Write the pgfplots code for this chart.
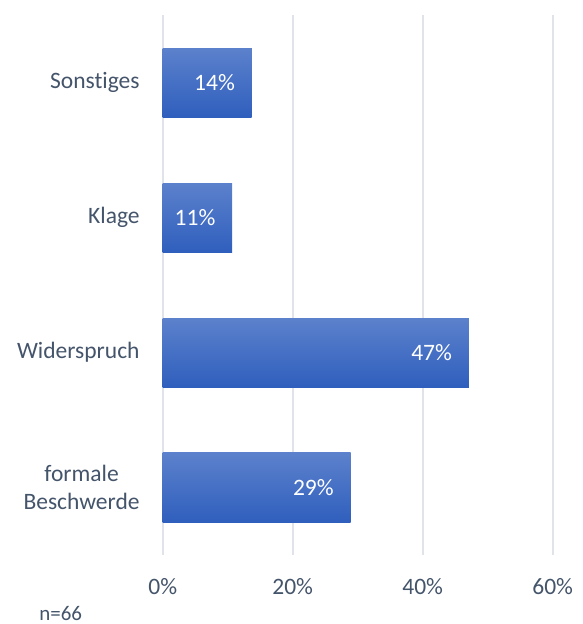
\documentclass[border=0pt]{standalone}
\usepackage{fontspec}
\setmainfont{Carlito}[Ligatures=NoCommon]
\usepackage{pgfplots}
\pgfplotsset{compat=1.18}
\definecolor{txt}{HTML}{44546A}
\definecolor{gridc}{HTML}{E0E3E9}
\definecolor{bartop}{HTML}{5C81CC}
\definecolor{barbot}{HTML}{2F5FBD}
\begin{document}
\begin{tikzpicture}
\path[use as bounding box] (-81.35bp,-34.5bp) rectangle (210.15bp,277.5bp);
\begin{axis}[
  scale only axis,
  width=195bp, height=270bp,
  xmin=0, xmax=60, ymin=-0.5, ymax=3.5,
  xbar, bar width=34.5bp, bar shift=0pt,
  axis line style={draw=none},
  xtick={0,20,40,60},
  xticklabel={\pgfmathprintnumber{\tick}\%},
  /pgf/number format/assume math mode=true,
  xmajorgrids, ymajorgrids=false,
  major grid style={draw=gridc, line width=1bp},
  major tick length=0pt,
  xtick style={draw=none}, ytick style={draw=none},
  ytick={0,1,2,3},
  yticklabels={{formale\\Beschwerde},Widerspruch,Klage,Sonstiges},
  xticklabel style={anchor=base, yshift=-19.5bp, inner sep=0pt, font=\fontsize{11.8}{14.2}\selectfont, text=txt},
  yticklabel style={anchor=east, xshift=-11.35bp, inner sep=0pt, align=center, font=\fontsize{11.8}{14.2}\selectfont, text=txt},
  nodes near coords,
  point meta=explicit symbolic,
  every node near coord/.append style={anchor=east, xshift=-8.25bp, inner sep=0pt, font=\fontsize{11.8}{14.2}\selectfont, text=white},
  every axis plot/.append style={draw=none, top color=bartop, bottom color=barbot},
  clip=false,
]
\addplot coordinates {(28.9,0) [29\%]};
\addplot coordinates {(47.1,1) [47\%]};
\addplot coordinates {(10.7,2) [11\%]};
\addplot coordinates {(13.7,3) [14\%]};
\end{axis}
\node[anchor=base west, inner sep=0pt, text=txt, font=\fontsize{10.5}{12.6}\selectfont] at (-61.85bp,-32.8bp) {n=66};
\end{tikzpicture}
\end{document}
